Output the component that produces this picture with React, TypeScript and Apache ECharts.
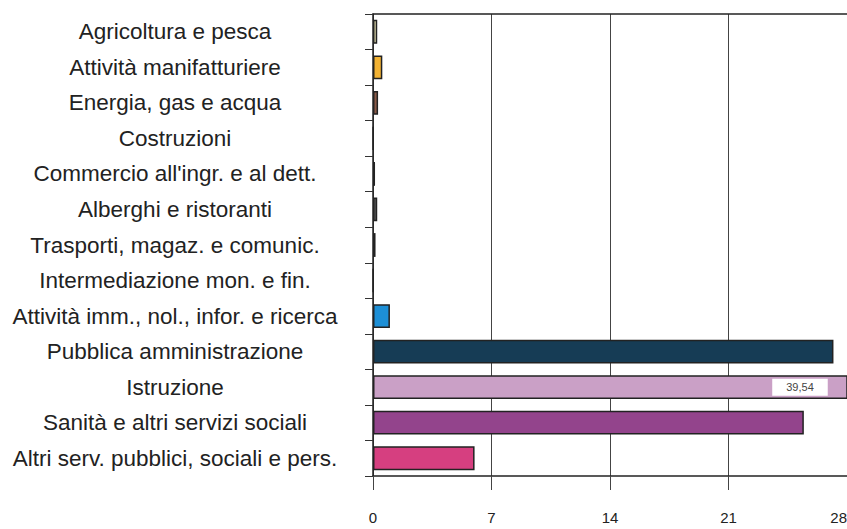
import React, { useEffect, useRef } from "react";
import * as echarts from "echarts";

const categories = [
  "Agricoltura e pesca",
  "Attività manifatturiere",
  "Energia, gas e acqua",
  "Costruzioni",
  "Commercio all'ingr. e al dett.",
  "Alberghi e ristoranti",
  "Trasporti, magaz. e comunic.",
  "Intermediazione mon. e fin.",
  "Attività imm., nol., infor. e ricerca",
  "Pubblica amministrazione",
  "Istruzione",
  "Sanità e altri servizi sociali",
  "Altri serv. pubblici, sociali e pers.",
];
const values = [0.25, 0.55, 0.3, 0.02, 0.12, 0.25, 0.15, 0.02, 1.0, 27.2, 39.54, 25.45, 6.0];
const colors = [
  "#d9d3a8", "#f2b233", "#8a5a48", "#777777", "#555555", "#555555", "#444444",
  "#777777", "#1d8fd6", "#163c55", "#caa0c6", "#93448c", "#d63f80",
];
const xTicks = [0, 7, 14, 21, 28];
const labelled = ["Istruzione"];

const FONT = "Liberation Sans, Arial, Helvetica, sans-serif";

export default function App() {
  const ref = useRef<HTMLDivElement>(null);
  useEffect(() => {
    if (!ref.current) return;
    const chart = echarts.init(ref.current, undefined, { renderer: "svg" });
    chart.setOption({
      animation: false,
      backgroundColor: "#ffffff",
      grid: {
        left: 373,
        right: 0,
        top: 14,
        bottom: 53,
        containLabel: false,
        outerBoundsMode: "none",
      },
      xAxis: [
        {
          type: "value",
          min: xTicks[0],
          max: xTicks[xTicks.length - 1],
          interval: 7,
          position: "bottom",
          axisLine: { show: true, lineStyle: { color: "#222", width: 1.5 } },
          axisTick: { show: true, length: 14, lineStyle: { color: "#444", width: 1 } },
          axisLabel: {
            color: "#222",
            fontSize: 15,
            margin: 34,
            fontFamily: FONT,
            hideOverlap: false,
            alignMaxLabel: "right",
          },
          splitLine: { show: true, lineStyle: { color: "#444", width: 1 } },
        },
        {
          type: "value",
          min: xTicks[0],
          max: xTicks[xTicks.length - 1],
          interval: 7,
          position: "top",
          axisLine: { show: true, lineStyle: { color: "#222", width: 1.5 } },
          axisTick: { show: false },
          axisLabel: { show: false },
          splitLine: { show: false },
        },
      ],
      yAxis: {
        type: "category",
        data: categories,
        inverse: true,
        axisLine: { show: true, lineStyle: { color: "#222", width: 1.5 } },
        axisTick: { show: true, length: 8, lineStyle: { color: "#333", width: 1 } },
        axisLabel: {
          color: "#222",
          fontSize: 22.5,
          align: "center",
          margin: 198,
          fontFamily: FONT,
        },
      },
      series: [
        {
          type: "bar",
          xAxisIndex: 0,
          barWidth: "67%",
          clip: true,
          data: values.map((v, i) => ({
            value: v,
            itemStyle: { color: colors[i], borderColor: "#222", borderWidth: 1.5 },
            label: labelled.includes(categories[i])
              ? {
                  show: true,
                  position: "insideRight",
                  distance: 20,
                  formatter: () => v.toFixed(2).replace(".", ","),
                  backgroundColor: "#ffffff",
                  color: "#444",
                  fontSize: 11,
                  padding: [3, 14],
                  fontFamily: FONT,
                }
              : { show: false },
          })),
        },
      ],
    });
    return () => chart.dispose();
  }, []);
  return (
    <div
      ref={ref}
      style={{ position: "fixed", left: 0, top: 0, width: 847, height: 529 }}
    />
  );
}
